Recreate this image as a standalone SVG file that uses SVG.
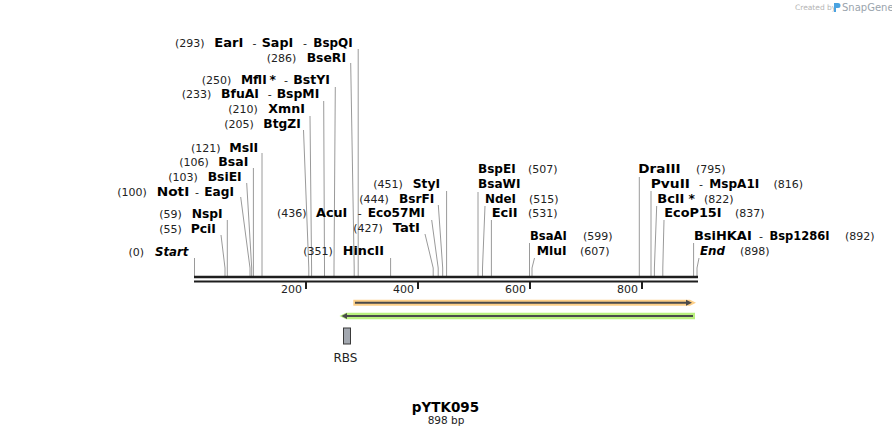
<svg xmlns="http://www.w3.org/2000/svg" width="892" height="439" viewBox="0 0 892 439">
<style>
text{font-family:"DejaVu Sans","Liberation Sans",sans-serif;font-size:11px;fill:#222}
.b{font-weight:bold;font-size:12.3px;fill:#000}
.bi{font-weight:bold;font-style:italic;font-size:12.3px;fill:#000}
.lead{stroke:#9a9a9a;stroke-width:1;fill:none}
.axis{stroke:#1e1e1e;fill:none}
.tick{stroke:#1e1e1e;stroke-width:2}
.fline{stroke:#4a4a4a;stroke-width:2;fill:none}
</style>
<rect width="892" height="439" fill="#fff"/>

<g id="logo">
<text x="795" y="10" style="font-size:7.5px;fill:#b4b4b4">Created by</text>
<path d="M834 3 h4 a2.5 2.5 0 0 1 0 5 h-2 v4 h-2 z" fill="#4aa3e0"/>
<text x="842" y="11" style="font-size:10px;fill:#9aa4ad">SnapGene</text>
</g>

<g id="connectors">
<path class="lead" d="M194.5 258V276"/>
<path class="lead" d="M221 235L225 268V276"/>
<path class="lead" d="M227.3 220V276"/>
<path class="lead" d="M240.7 197L250 268V276"/>
<path class="lead" d="M246.7 183L251.7 268V276"/>
<path class="lead" d="M253.4 168V276"/>
<path class="lead" d="M262 153V276"/>
<path class="lead" d="M303.5 130L308.8 268V276"/>
<path class="lead" d="M310 116L311.6 268V276"/>
<path class="lead" d="M323.7 101L324.5 268V276"/>
<path class="lead" d="M335.3 87L334 268V276"/>
<path class="lead" d="M350.7 63L354.2 268V276"/>
<path class="lead" d="M358.2 49V276"/>
<path class="lead" d="M390.6 258V276"/>
<path class="lead" d="M425 234L433.2 268V276"/>
<path class="lead" d="M431.7 220L438.2 268V276"/>
<path class="lead" d="M438.3 205L442.7 268V276"/>
<path class="lead" d="M446.6 191V276"/>
<path class="lead" d="M478 192V276"/>
<path class="lead" d="M485 206L482.5 268V276"/>
<path class="lead" d="M491.4 220V276"/>
<path class="lead" d="M529.5 243V276"/>
<path class="lead" d="M534.5 258L532 268V276"/>
<path class="lead" d="M639.3 177V276"/>
<path class="lead" d="M651 191V276"/>
<path class="lead" d="M656.7 206L654.4 268V276"/>
<path class="lead" d="M664 220L662.8 268V276"/>
<path class="lead" d="M693.6 243V276"/>
<path class="lead" d="M699 258L697 268V276"/>
</g>

<g id="axis">
<line class="axis" x1="194" y1="277" x2="698" y2="277" stroke-width="2.5"/>
<line class="axis" x1="194" y1="281.5" x2="698" y2="281.5" stroke-width="2"/>
<line class="tick" x1="306" y1="282" x2="306" y2="289"/>
<line class="tick" x1="418" y1="282" x2="418" y2="289"/>
<line class="tick" x1="530" y1="282" x2="530" y2="289"/>
<line class="tick" x1="642" y1="282" x2="642" y2="289"/>
<text x="302" y="292.5" text-anchor="end">200</text>
<text x="414" y="292.5" text-anchor="end">400</text>
<text x="526" y="292.5" text-anchor="end">600</text>
<text x="638" y="292.5" text-anchor="end">800</text>
</g>

<g id="feature-orange">
<path d="M353.3 299.7H690L696 302.7L690 305.7H353.3Z" fill="#fdcf87"/>
<path class="fline" d="M355 302.7H688"/>
<path d="M686 299.7L692 302.7L686 305.7Z" fill="#4a4a4a"/>
</g>
<g id="feature-green">
<path d="M339.5 316L346 312.7H695V319.3H346Z" fill="#b9f07e"/>
<path class="fline" d="M345 316H693"/>
<path d="M341.5 316L347 313V319Z" fill="#4a4a4a"/>
</g>
<g id="RBS">
<rect x="343.5" y="328" width="7" height="16" fill="#a3a8b0" stroke="#3a3a3a" stroke-width="1"/>
<text x="345.5" y="361.5" text-anchor="middle" style="font-size:12px">RBS</text>
</g>

<g id="title">
<text x="445.5" y="411.5" text-anchor="middle" style="font-weight:bold;font-size:13.5px;fill:#000">pYTK095</text>
<text x="446" y="424" text-anchor="middle" style="font-size:10.5px">898 bp</text>
</g>

<g id="EarI"><text y="47"><tspan x="175">(293)</tspan><tspan class="b" x="214.3" textLength="29" lengthAdjust="spacingAndGlyphs">EarI</tspan><tspan x="252.5">-</tspan><tspan class="b" x="261.7" textLength="31.5" lengthAdjust="spacingAndGlyphs">SapI</tspan><tspan x="303">-</tspan><tspan class="b" x="313.3" textLength="39.4" lengthAdjust="spacingAndGlyphs">BspQI</tspan></text></g>
<g id="BseRI"><text y="61.5"><tspan x="266.7">(286)</tspan><tspan class="b" x="306.7" textLength="39.3" lengthAdjust="spacingAndGlyphs">BseRI</tspan></text></g>
<g id="MflI"><text y="83.5"><tspan x="201.7">(250)</tspan><tspan class="b" x="241" textLength="25.7" lengthAdjust="spacingAndGlyphs">MflI</tspan><tspan class="b" x="269.5">*</tspan><tspan x="284">-</tspan><tspan class="b" x="293.3" textLength="36.7" lengthAdjust="spacingAndGlyphs">BstYI</tspan></text></g>
<g id="BfuAI"><text y="98"><tspan x="181.7">(233)</tspan><tspan class="b" x="221" textLength="38" lengthAdjust="spacingAndGlyphs">BfuAI</tspan><tspan x="267.7">-</tspan><tspan class="b" x="276.7" textLength="42.6" lengthAdjust="spacingAndGlyphs">BspMI</tspan></text></g>
<g id="XmnI"><text y="113"><tspan x="228.3">(210)</tspan><tspan class="b" x="268.3" textLength="36.7" lengthAdjust="spacingAndGlyphs">XmnI</tspan></text></g>
<g id="BtgZI"><text y="128"><tspan x="224.3">(205)</tspan><tspan class="b" x="263.3" textLength="37.4" lengthAdjust="spacingAndGlyphs">BtgZI</tspan></text></g>
<g id="MslI"><text y="151.5"><tspan x="191">(121)</tspan><tspan class="b" x="229.3" textLength="29" lengthAdjust="spacingAndGlyphs">MslI</tspan></text></g>
<g id="BsaI"><text y="166"><tspan x="179.3">(106)</tspan><tspan class="b" x="218.3" textLength="30" lengthAdjust="spacingAndGlyphs">BsaI</tspan></text></g>
<g id="BsiEI"><text y="181"><tspan x="168.3">(103)</tspan><tspan class="b" x="207.7" textLength="34" lengthAdjust="spacingAndGlyphs">BsiEI</tspan></text></g>
<g id="NotI"><text y="196"><tspan x="117.3">(100)</tspan><tspan class="b" x="156.7" textLength="32.6" lengthAdjust="spacingAndGlyphs">NotI</tspan><tspan x="195">-</tspan><tspan class="b" x="204.3" textLength="29.7" lengthAdjust="spacingAndGlyphs">EagI</tspan></text></g>
<g id="NspI"><text y="218"><tspan x="159.3">(59)</tspan><tspan class="b" x="191.7" textLength="31" lengthAdjust="spacingAndGlyphs">NspI</tspan></text></g>
<g id="PciI"><text y="232.5"><tspan x="159.3">(55)</tspan><tspan class="b" x="190.7" textLength="25.3" lengthAdjust="spacingAndGlyphs">PciI</tspan></text></g>
<g id="Start"><text y="255.5"><tspan x="128.5">(0)</tspan><tspan class="bi" x="155" textLength="33.3" lengthAdjust="spacingAndGlyphs">Start</tspan></text></g>

<g id="StyI"><text y="188"><tspan x="373.3">(451)</tspan><tspan class="b" x="412.7" textLength="27.3" lengthAdjust="spacingAndGlyphs">StyI</tspan></text></g>
<g id="BsrFI"><text y="202.5"><tspan x="359.3">(444)</tspan><tspan class="b" x="399" textLength="35.3" lengthAdjust="spacingAndGlyphs">BsrFI</tspan></text></g>
<g id="AcuI"><text y="217"><tspan x="277">(436)</tspan><tspan class="b" x="316" textLength="31.3" lengthAdjust="spacingAndGlyphs">AcuI</tspan><tspan x="357.7">-</tspan><tspan class="b" x="367.7" textLength="57.3" lengthAdjust="spacingAndGlyphs">Eco57MI</tspan></text></g>
<g id="TatI"><text y="232"><tspan x="353.3">(427)</tspan><tspan class="b" x="392.7" textLength="27.3" lengthAdjust="spacingAndGlyphs">TatI</tspan></text></g>
<g id="HincII"><text y="255"><tspan x="303.3">(351)</tspan><tspan class="b" x="342.7" textLength="41.3" lengthAdjust="spacingAndGlyphs">HincII</tspan></text></g>

<g id="BspEI"><text y="172.5"><tspan class="b" x="478" textLength="37.7" lengthAdjust="spacingAndGlyphs">BspEI</tspan><tspan x="528">(507)</tspan></text><text y="187.5" class="b" x="478" textLength="42.4" lengthAdjust="spacingAndGlyphs">BsaWI</text></g>
<g id="NdeI"><text y="202.5"><tspan class="b" x="485" textLength="31" lengthAdjust="spacingAndGlyphs">NdeI</tspan><tspan x="529">(515)</tspan></text></g>
<g id="EciI"><text y="217"><tspan class="b" x="491.7" textLength="26" lengthAdjust="spacingAndGlyphs">EciI</tspan><tspan x="528">(531)</tspan></text></g>
<g id="BsaAI"><text y="240"><tspan class="b" x="530" textLength="36.7" lengthAdjust="spacingAndGlyphs">BsaAI</tspan><tspan x="583">(599)</tspan></text></g>
<g id="MluI"><text y="255"><tspan class="b" x="536.7" textLength="30" lengthAdjust="spacingAndGlyphs">MluI</tspan><tspan x="580">(607)</tspan></text></g>
<g id="DraIII"><text y="172.5"><tspan class="b" x="638.3" textLength="42.3" lengthAdjust="spacingAndGlyphs">DraIII</tspan><tspan x="696">(795)</tspan></text></g>
<g id="PvuII"><text y="187.5"><tspan class="b" x="650.7" textLength="39.3" lengthAdjust="spacingAndGlyphs">PvuII</tspan><tspan x="699">-</tspan><tspan class="b" x="709.3" textLength="50" lengthAdjust="spacingAndGlyphs">MspA1I</tspan><tspan x="773.5">(816)</tspan></text></g>
<g id="BclI"><text y="202.5"><tspan class="b" x="657.3" textLength="27" lengthAdjust="spacingAndGlyphs">BclI</tspan><tspan class="b" x="688.5">*</tspan><tspan x="704">(822)</tspan></text></g>
<g id="EcoP15I"><text y="217"><tspan class="b" x="664.3" textLength="57.3" lengthAdjust="spacingAndGlyphs">EcoP15I</tspan><tspan x="735">(837)</tspan></text></g>
<g id="BsiHKAI"><text y="240"><tspan class="b" x="694" textLength="57.7" lengthAdjust="spacingAndGlyphs">BsiHKAI</tspan><tspan x="759">-</tspan><tspan class="b" x="769.5" textLength="60" lengthAdjust="spacingAndGlyphs">Bsp1286I</tspan><tspan x="845">(892)</tspan></text></g>
<g id="End"><text y="255"><tspan class="bi" x="700" textLength="25" lengthAdjust="spacingAndGlyphs">End</tspan><tspan x="740">(898)</tspan></text></g>
</svg>
